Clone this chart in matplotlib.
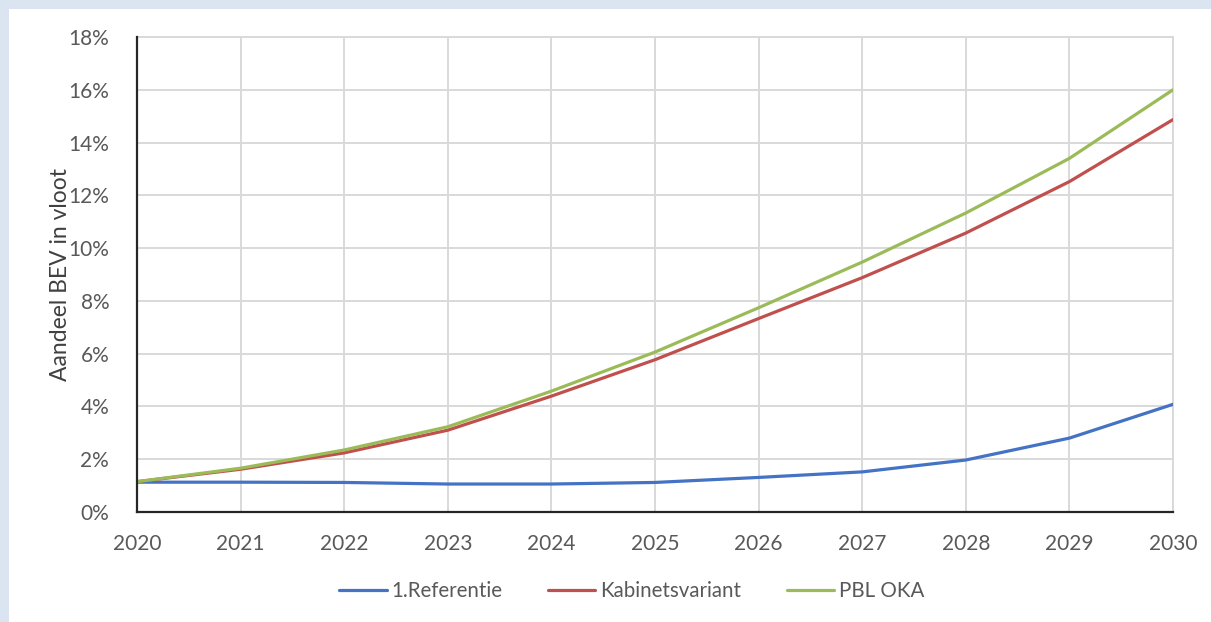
import matplotlib
import matplotlib.pyplot as plt
from matplotlib.patches import Rectangle
from matplotlib.ticker import FuncFormatter

matplotlib.use('agg')
plt.rcParams['font.family'] = ['Lato', 'DejaVu Sans']

years = [2020, 2021, 2022, 2023, 2024, 2025, 2026, 2027, 2028, 2029, 2030]
referentie = [1.13, 1.13, 1.12, 1.06, 1.06, 1.12, 1.31, 1.52, 1.97, 2.80, 4.08]
kabinet = [1.15, 1.62, 2.24, 3.10, 4.39, 5.77, 7.33, 8.88, 10.57, 12.52, 14.87]
pbl_oka = [1.15, 1.66, 2.35, 3.23, 4.58, 6.06, 7.74, 9.47, 11.33, 13.40, 16.00]

series_names = ['1.Referentie', 'Kabinetsvariant', 'PBL OKA']
colors = ['#4472c4', '#c0504d', '#9bbb59']
text_grey = '#595959'

fig = plt.figure(figsize=(12.11, 6.22), dpi=100)
fig.patch.set_facecolor('#dae5f1')
# white chart area inside the light blue frame
fig.patches.append(Rectangle((9 / 1211, 0), 1, 1 - 9 / 622, transform=fig.transFigure,
                             facecolor='white', edgecolor='none', zorder=-10))

ax = fig.add_axes([137 / 1211, 110 / 622, 1036 / 1211, 475 / 622])
ax.set_facecolor('white')

for vals, name, c in zip([referentie, kabinet, pbl_oka], series_names, colors):
    ax.plot(years, vals, color=c, lw=2.3, label=name, solid_capstyle='round', zorder=3)

ax.set_xlim(2020, 2030)
ax.set_ylim(0, 18)
ax.set_xticks(years)
ax.set_yticks(range(0, 19, 2))
ax.yaxis.set_major_formatter(FuncFormatter(lambda v, p: '%d%%' % v))
ax.grid(True, color='#d9d9d9', lw=1.4, zorder=0)
ax.set_axisbelow(True)

for side in ['top', 'right']:
    ax.spines[side].set_color('#d9d9d9')
    ax.spines[side].set_linewidth(1.4)
for side in ['left', 'bottom']:
    ax.spines[side].set_color('#262626')
    ax.spines[side].set_linewidth(1.6)
    ax.spines[side].set_zorder(4)

ax.tick_params(length=0, labelsize=15, colors=text_grey)
ax.tick_params(axis='x', pad=16)
ax.tick_params(axis='y', pad=20)
ax.set_ylabel('Aandeel BEV in vloot', fontsize=16.5, color='#404040', labelpad=-2)

fig.legend(loc='center left', bbox_to_anchor=(0.265, 0.05), ncol=3, frameon=False,
           fontsize=14.8, handlelength=2.3, handletextpad=0.25, columnspacing=2.2,
           labelcolor=text_grey)

fig.savefig('out.png', dpi=100, facecolor=fig.get_facecolor())
